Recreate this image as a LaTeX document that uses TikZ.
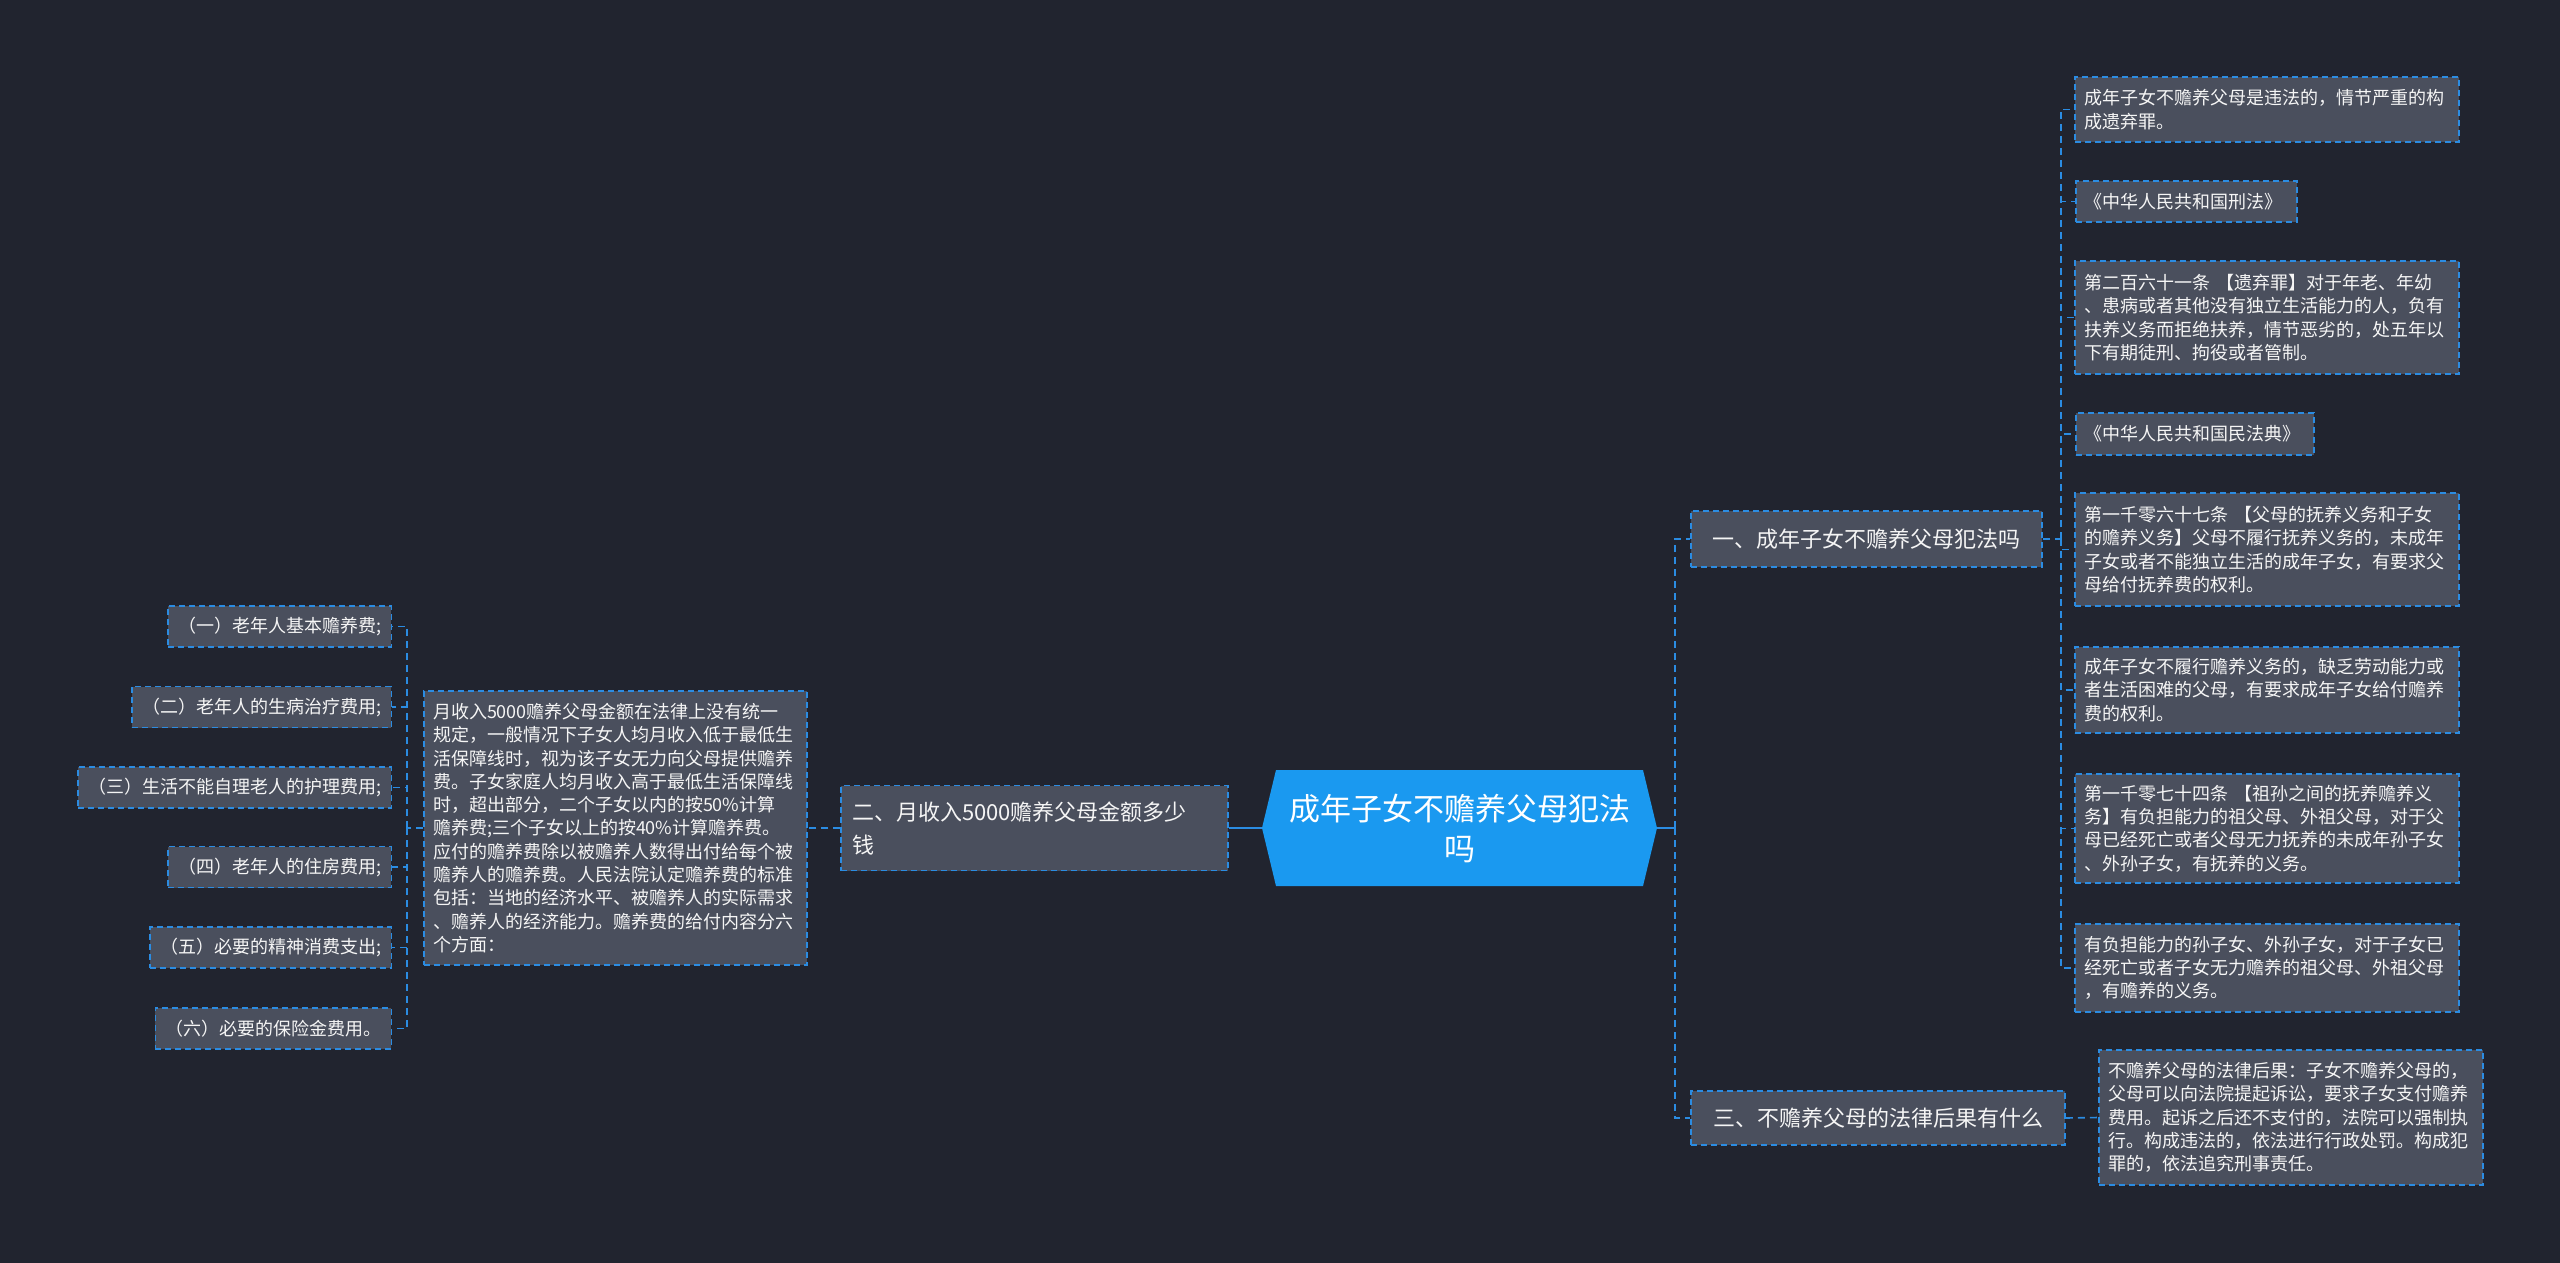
\documentclass[tikz,border=0pt]{standalone}
\usepackage{fontspec}
\setmainfont{Noto Sans CJK SC}
\usetikzlibrary{calc}
\definecolor{bgc}{RGB}{33,36,47}
\definecolor{boxc}{RGB}{74,79,93}
\definecolor{linec}{RGB}{43,140,226}
\definecolor{rootc}{RGB}{26,153,240}
\definecolor{txtc}{RGB}{245,245,245}
\tikzset{
  dashbox/.style={draw=linec, fill=boxc, dash pattern=on 6pt off 4pt, line width=1.5pt, text=txtc},
  leafbox/.style={dashbox, font=\fontsize{18}{23.3}\selectfont, inner xsep=9pt, inner ysep=0pt, align=left, text width=366pt, minimum width=384pt},
  itembox/.style={dashbox, font=\fontsize{18}{23.3}\selectfont, inner xsep=10pt, inner ysep=0pt, minimum height=41pt, anchor=east},
  branchbox/.style={dashbox, font=\fontsize{22}{33}\selectfont, inner xsep=11pt, inner ysep=0pt, align=left},
  link/.style={draw=linec, line width=1.6pt, dash pattern=on 7pt off 5pt},
  rootlink/.style={draw=linec, line width=2.2pt}
}
\begin{document}
\begin{tikzpicture}[x=1pt,y=-1pt]
\fill[bgc] (0,0) rectangle (2560,1263);
\useasboundingbox (0,0) rectangle (2560,1263);

% root
\fill[rootc] (1262,828) -- (1276,770) -- (1643,770) -- (1657,828) -- (1643,886) -- (1276,886) -- cycle;
\node[font=\fontsize{31}{40}\selectfont, text=white, align=center, minimum width=395pt, minimum height=116pt, inner sep=0pt] (root) at (1459.5,828) {成年子女不赡养父母犯法\\吗};

% branches
\node[branchbox, minimum width=351pt, minimum height=56pt] (b1) at (1866.5,539) {一、成年子女不赡养父母犯法吗};
\node[branchbox, minimum width=374pt, minimum height=54pt] (b3) at (1878,1118) {三、不赡养父母的法律后果有什么};
\node[branchbox, text width=365pt, minimum width=387pt, minimum height=85pt] (b2) at (1034.5,828) {二、月收入5000赡养父母金额多少\\钱};

% right leaves
\node[leafbox, minimum height=65pt] (l1) at (2267,109.5) {成年子女不赡养父母是违法的，情节严重的构\\成遗弃罪。};
\node[leafbox, text width=203pt, minimum width=221pt, minimum height=41pt, anchor=west] (l2) at (2075,201.5) {《中华人民共和国刑法》};
\node[leafbox, minimum height=113pt] (l3) at (2267,317.5) {第二百六十一条~【遗弃罪】对于年老、年幼\\、患病或者其他没有独立生活能力的人，负有\\扶养义务而拒绝扶养，情节恶劣的，处五年以\\下有期徒刑、拘役或者管制。};
\node[leafbox, text width=220pt, minimum width=238pt, minimum height=42pt, anchor=west] (l4) at (2075,434) {《中华人民共和国民法典》};
\node[leafbox, minimum height=113pt] (l5) at (2267,549.5) {第一千零六十七条~【父母的抚养义务和子女\\的赡养义务】父母不履行抚养义务的，未成年\\子女或者不能独立生活的成年子女，有要求父\\母给付抚养费的权利。};
\node[leafbox, minimum height=86pt] (l6) at (2267,690) {成年子女不履行赡养义务的，缺乏劳动能力或\\者生活困难的父母，有要求成年子女给付赡养\\费的权利。};
\node[leafbox, minimum height=109pt] (l7) at (2267,828.5) {第一千零七十四条~【祖孙之间的抚养赡养义\\务】有负担能力的祖父母、外祖父母，对于父\\母已经死亡或者父母无力抚养的未成年孙子女\\、外孙子女，有抚养的义务。};
\node[leafbox, minimum height=88pt] (l8) at (2267,968) {有负担能力的孙子女、外孙子女，对于子女已\\经死亡或者子女无力赡养的祖父母、外祖父母\\，有赡养的义务。};
\node[leafbox, minimum height=135pt] (r3) at (2291,1117.5) {不赡养父母的法律后果：子女不赡养父母的，\\父母可以向法院提起诉讼，要求子女支付赡养\\费用。起诉之后还不支付的，法院可以强制执\\行。构成违法的，依法进行行政处罚。构成犯\\罪的，依法追究刑事责任。};

% left big leaf
\node[leafbox, minimum width=383pt, text width=365pt, minimum height=274pt] (big) at (615.5,828) {月收入5000赡养父母金额在法律上没有统一\\规定，一般情况下子女人均月收入低于最低生\\活保障线时，视为该子女无力向父母提供赡养\\费。子女家庭人均月收入高于最低生活保障线\\时，超出部分，二个子女以内的按50\%计算\\赡养费;三个子女以上的按40\%计算赡养费。\\应付的赡养费除以被赡养人数得出付给每个被\\赡养人的赡养费。人民法院认定赡养费的标准\\包括：当地的经济水平、被赡养人的实际需求\\、赡养人的经济能力。赡养费的给付内容分六\\个方面：};

% left items
\node[itembox] (i1) at (392,626.5) {（一）老年人基本赡养费;};
\node[itembox] (i2) at (392,707) {（二）老年人的生病治疗费用;};
\node[itembox] (i3) at (392,787.5) {（三）生活不能自理老人的护理费用;};
\node[itembox] (i4) at (392,867) {（四）老年人的住房费用;};
\node[itembox] (i5) at (392,947.5) {（五）必要的精神消费支出;};
\node[itembox] (i6) at (392,1028.5) {（六）必要的保险金费用。};

% connectors right
\draw[rootlink] (root.east) -- ++(18,0) coordinate (rj);
\draw[link] (rj) |- (b1.west);
\draw[link] (rj) |- (b3.west);
\draw[link] (b1.east) -- ++(18,0) coordinate (j1);
\foreach \n in {l1,l2,l3,l4,l5,l6,l7,l8} \draw[link] (j1) |- (\n.west);
\draw[link] (b3.east) -- (r3.west);

% connectors left
\draw[rootlink] (root.west) -- (b2.east);
\draw[link] (b2.west) -- (big.east);
\draw[link] (big.west) -- ++(-16,0) coordinate (j2);
\foreach \n in {i1,i2,i3,i4,i5,i6} \draw[link] (j2) |- (\n.east);
\end{tikzpicture}
\end{document}
